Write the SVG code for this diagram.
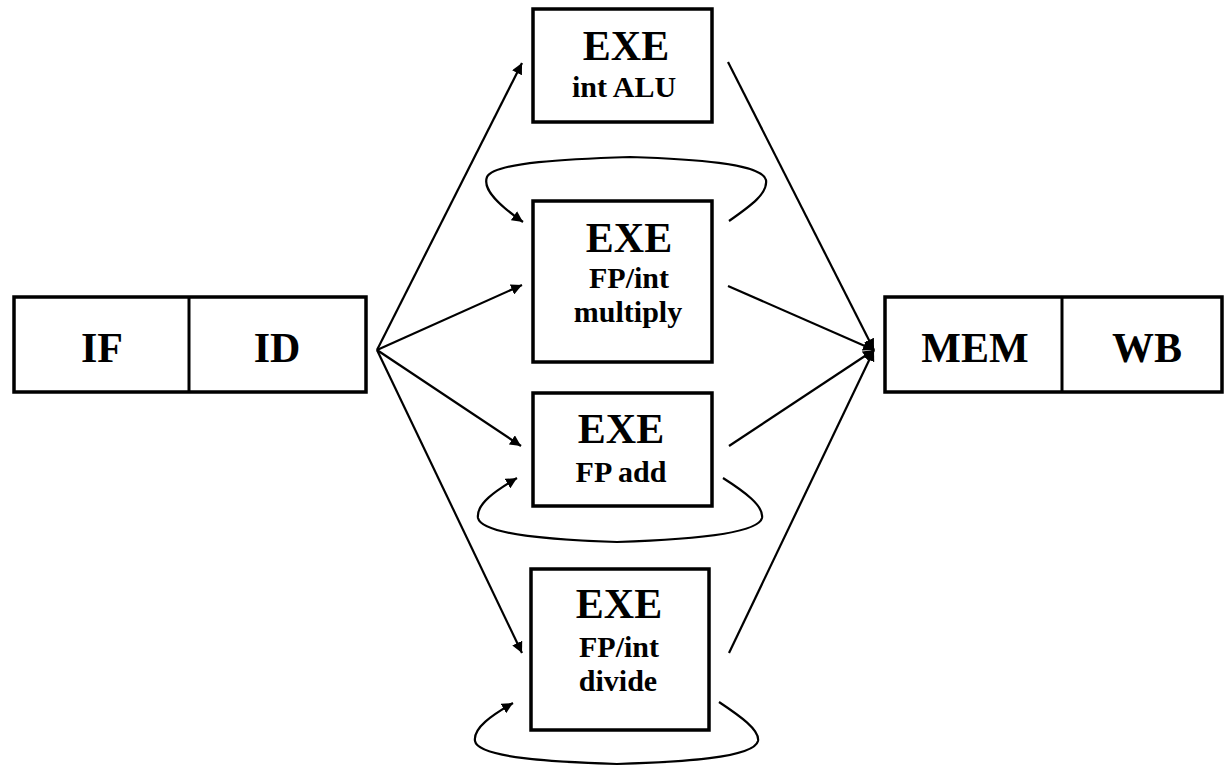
<svg xmlns="http://www.w3.org/2000/svg" width="1226" height="766" viewBox="0 0 1226 766">
<style>
.box{fill:#fff;stroke:#000;stroke-width:3.5}
.div{stroke:#000;stroke-width:3}
.big{font-family:"Liberation Serif",serif;font-weight:bold;font-size:42px;text-anchor:middle;fill:#000}
.sub{font-family:"Liberation Serif",serif;font-weight:bold;font-size:30px;text-anchor:middle;fill:#000}
.ln{fill:none;stroke:#000;stroke-width:2.2}
</style>
<defs>
<marker id="ah" viewBox="0 0 10 10" refX="10" refY="5" markerWidth="5" markerHeight="5" orient="auto" markerUnits="strokeWidth">
<path d="M0,0 L10,5 L0,10 z" fill="#000"/>
</marker>
</defs>
<g id="ifid">
<rect class="box" x="14" y="297" width="352" height="95"/>
<line class="div" x1="189" y1="297" x2="189" y2="392"/>
<text class="big" x="102" y="362">IF</text>
<text class="big" x="277" y="362">ID</text>
</g>
<g id="memwb">
<rect class="box" x="885" y="297" width="337" height="95"/>
<line class="div" x1="1062" y1="297" x2="1062" y2="392"/>
<text class="big" x="975" y="362">MEM</text>
<text class="big" x="1147" y="362">WB</text>
</g>
<g id="alu">
<rect class="box" x="533" y="9" width="179" height="113"/>
<text class="big" x="626" y="60">EXE</text>
<text class="sub" x="624" y="97">int ALU</text>
</g>
<g id="mul">
<rect class="box" x="533" y="201" width="179" height="161"/>
<text class="big" x="629" y="252">EXE</text>
<text class="sub" x="629" y="288">FP/int</text>
<text class="sub" x="628" y="322">multiply</text>
</g>
<g id="add">
<rect class="box" x="533" y="393" width="179" height="113"/>
<text class="big" x="621" y="443">EXE</text>
<text class="sub" x="621" y="482">FP add</text>
</g>
<g id="divide">
<rect class="box" x="531" y="569" width="178" height="161"/>
<text class="big" x="619" y="618">EXE</text>
<text class="sub" x="619" y="657">FP/int</text>
<text class="sub" x="618" y="691">divide</text>
</g>
<g id="connectors">
<line class="ln" x1="377" y1="350" x2="522" y2="63" marker-end="url(#ah)"/>
<line class="ln" x1="377" y1="350" x2="522" y2="285" marker-end="url(#ah)"/>
<line class="ln" x1="377" y1="350" x2="521" y2="446" marker-end="url(#ah)"/>
<line class="ln" x1="377" y1="350" x2="522" y2="653" marker-end="url(#ah)"/>
<line class="ln" x1="728" y1="62" x2="874" y2="350" marker-end="url(#ah)"/>
<line class="ln" x1="728" y1="286" x2="874" y2="350" marker-end="url(#ah)"/>
<line class="ln" x1="729" y1="446" x2="874" y2="350" marker-end="url(#ah)"/>
<line class="ln" x1="729" y1="653" x2="874" y2="350" marker-end="url(#ah)"/>
<path class="ln" d="M729,221 C752,205 768,193 766,180 C762,163 690,159 630,157 C570,159 494,162 487,177 C482,190 500,206 523,222" marker-end="url(#ah)"/>
<path class="ln" d="M723,478 C745,492 764,506 762,518 C758,535 680,540 617,542 C555,540 482,535 478,518 C476,504 495,491 517,478" marker-end="url(#ah)"/>
<path class="ln" d="M719,702 C740,716 760,730 758,741 C754,758 680,762 617,764 C555,762 478,758 475,741 C473,728 492,715 513,703" marker-end="url(#ah)"/>
</g>
</svg>
